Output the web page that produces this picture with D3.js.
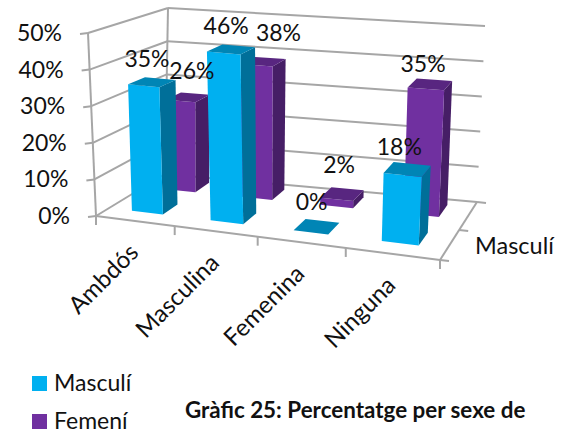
<!DOCTYPE html>
<html><head><meta charset="utf-8">
<style>html,body{margin:0;padding:0;background:#fff;overflow:hidden}svg{display:block}text{font-family:Lato,"Open Sans",sans-serif;fill:#111}</style>
<script src="https://cdn.jsdelivr.net/npm/d3@7/dist/d3.min.js"></script></head><body><svg id="c" width="565" height="432"></svg>
<script>
const categories=["Ambdós","Masculina","Femenina","Ninguna"];
const seriesNames=["Masculí","Femení"];
const masculi=[35,46,0,18];
const femeni=[26,38,2,35];
const valueTicks=[0,10,20,30,40,50];
const seriesColors={front:"#00B0F0",top:"#0085B5",side:"#006F99"};
const seriesColors2={front:"#7030A0",top:"#582680",side:"#461E66"};
const gridColor="#a6a6a6";
const labelNudgeM=[[1,-6],[1,-6],[1,-8],[-2,-5]];
const labelNudgeF=[[10,-9],[21,-12],[3,-12],[-1,-3]];

const bottomQuad=[[96,216],[440,260],[477,202],[165,174]];
const topQuad=[[88,33],[452,66],[485,26],[168,8]];
function homography(q){
  const [p0,p1,p2,p3]=q;
  const dx1=p1[0]-p2[0],dx2=p3[0]-p2[0],dy1=p1[1]-p2[1],dy2=p3[1]-p2[1];
  const sx=p0[0]-p1[0]+p2[0]-p3[0],sy=p0[1]-p1[1]+p2[1]-p3[1];
  const den=dx1*dy2-dx2*dy1;
  const g=(sx*dy2-dx2*sy)/den,h=(dx1*sy-sx*dy1)/den;
  const a=p1[0]-p0[0]+g*p1[0],b=p3[0]-p0[0]+h*p3[0],c=p0[0];
  const d=p1[1]-p0[1]+g*p1[1],e=p3[1]-p0[1]+h*p3[1],f=p0[1];
  const bl=(u,v)=>[0,1].map(k=>p0[k]*(1-u)*(1-v)+p1[k]*u*(1-v)+p2[k]*u*v+p3[k]*(1-u)*v);
  return (u,v)=>{const w=g*u+h*v+1,pp=[(a*u+b*v+c)/w,(d*u+e*v+f)/w],q2=bl(u,v);return [(pp[0]+q2[0])/2,(pp[1]+q2[1])/2];};
}
const hb=homography(bottomQuad),ht=homography(topQuad);
const xScale=d3.scaleBand().domain(categories).range([0,1]).paddingInner(0.6).paddingOuter(0.3);
const zScale=d3.scaleBand().domain(seriesNames).range([0.04,1.04]).paddingInner(0.56).paddingOuter(0.28);
const yScale=d3.scaleLinear().domain([0,50]).range([0,1]);
const P=(u,v,val)=>{const a=hb(u,v),b=ht(u,v),t=yScale(val);return [a[0]+(b[0]-a[0])*t,a[1]+(b[1]-a[1])*t];};
const path=pts=>d3.line()(pts)+"Z";
const svg=d3.select("#c");
const gg=svg.append("g").attr("fill","none").attr("stroke",gridColor).attr("stroke-width",2);
const ln=(a,b)=>gg.append("path").attr("d",d3.line()([a,b]));
valueTicks.forEach(t=>{
  ln(P(0,0,t),P(0,1,t));
  ln(P(0,1,t),P(1,1,t));
  const a=P(0,0,t);ln(a,[a[0]-8,a[1]+1]);
});
ln(P(0,0,0),P(0,0,50));ln(P(0,1,0),P(0,1,50));
ln(P(0,0,0),P(1,0,0));ln(P(1,0,0),P(1,1,0));
d3.range(0,5).forEach(i=>{const a=P(i/4,0,0);ln(a,[a[0],a[1]+9]);});
[0,.5,1].forEach(v=>{const a=P(1,v,0);ln(a,[a[0]+9,a[1]+1]);});

function bar(cat,ser,val,col){
  const u0=xScale(cat),u1=u0+xScale.bandwidth(),v0=zScale(ser),v1=v0+zScale.bandwidth();
  const g=svg.append("g");
  g.append("path").attr("fill",col.side).attr("d",path([P(u1,v0,0),P(u1,v1,0),P(u1,v1,val),P(u1,v0,val)]));
  g.append("path").attr("fill",col.front).attr("d",path([P(u0,v0,0),P(u1,v0,0),P(u1,v0,val),P(u0,v0,val)]));
  g.append("path").attr("fill",col.top).attr("d",path([P(u0,v0,val),P(u1,v0,val),P(u1,v1,val),P(u0,v1,val)]));
}
const order=[["Femení",femeni,seriesColors2,labelNudgeF],["Masculí",masculi,seriesColors,labelNudgeM]];
order.forEach(([s,vals,col])=>categories.forEach((c,i)=>bar(c,s,vals[i],col)));
order.forEach(([s,vals,col,nudge])=>categories.forEach((c,i)=>{
  const u=xScale(c)+xScale.bandwidth()/2,v=zScale(s)+zScale.bandwidth()/2;
  const p=P(u,v,vals[i]);
  svg.append("text").attr("x",p[0]-6+nudge[i][0]).attr("y",p[1]-9+nudge[i][1]).attr("text-anchor","middle").attr("font-size",23).text(vals[i]+"%");
}));
valueTicks.forEach(t=>{
  const a=P(0,0,t);
  svg.append("text").attr("x",a[0]-26).attr("y",a[1]+8).attr("text-anchor","end").attr("font-size",23).text(t+"%");
});
categories.forEach((c,i)=>{
  const a=P((i+.5)/4,0,0);
  svg.append("text").attr("transform",`translate(${a[0]+5},${a[1]+33}) rotate(-45)`).attr("text-anchor","end").attr("font-size",24).text(c);
});
svg.append("text").attr("x",475).attr("y",254).attr("font-size",23.5).text("Masculí");
const ly=[384,422];
seriesNames.forEach((s,i)=>{
  svg.append("rect").attr("x",32).attr("y",ly[i]-8).attr("width",15).attr("height",15).attr("fill",i?seriesColors2.front:seriesColors.front);
  svg.append("text").attr("x",54).attr("y",ly[i]+7).attr("font-size",23).text(s);
});
svg.append("text").attr("x",185).attr("y",418).attr("font-size",22.4).attr("font-weight",700).text("Gràfic 25: Percentatge per sexe de");
</script></body></html>
